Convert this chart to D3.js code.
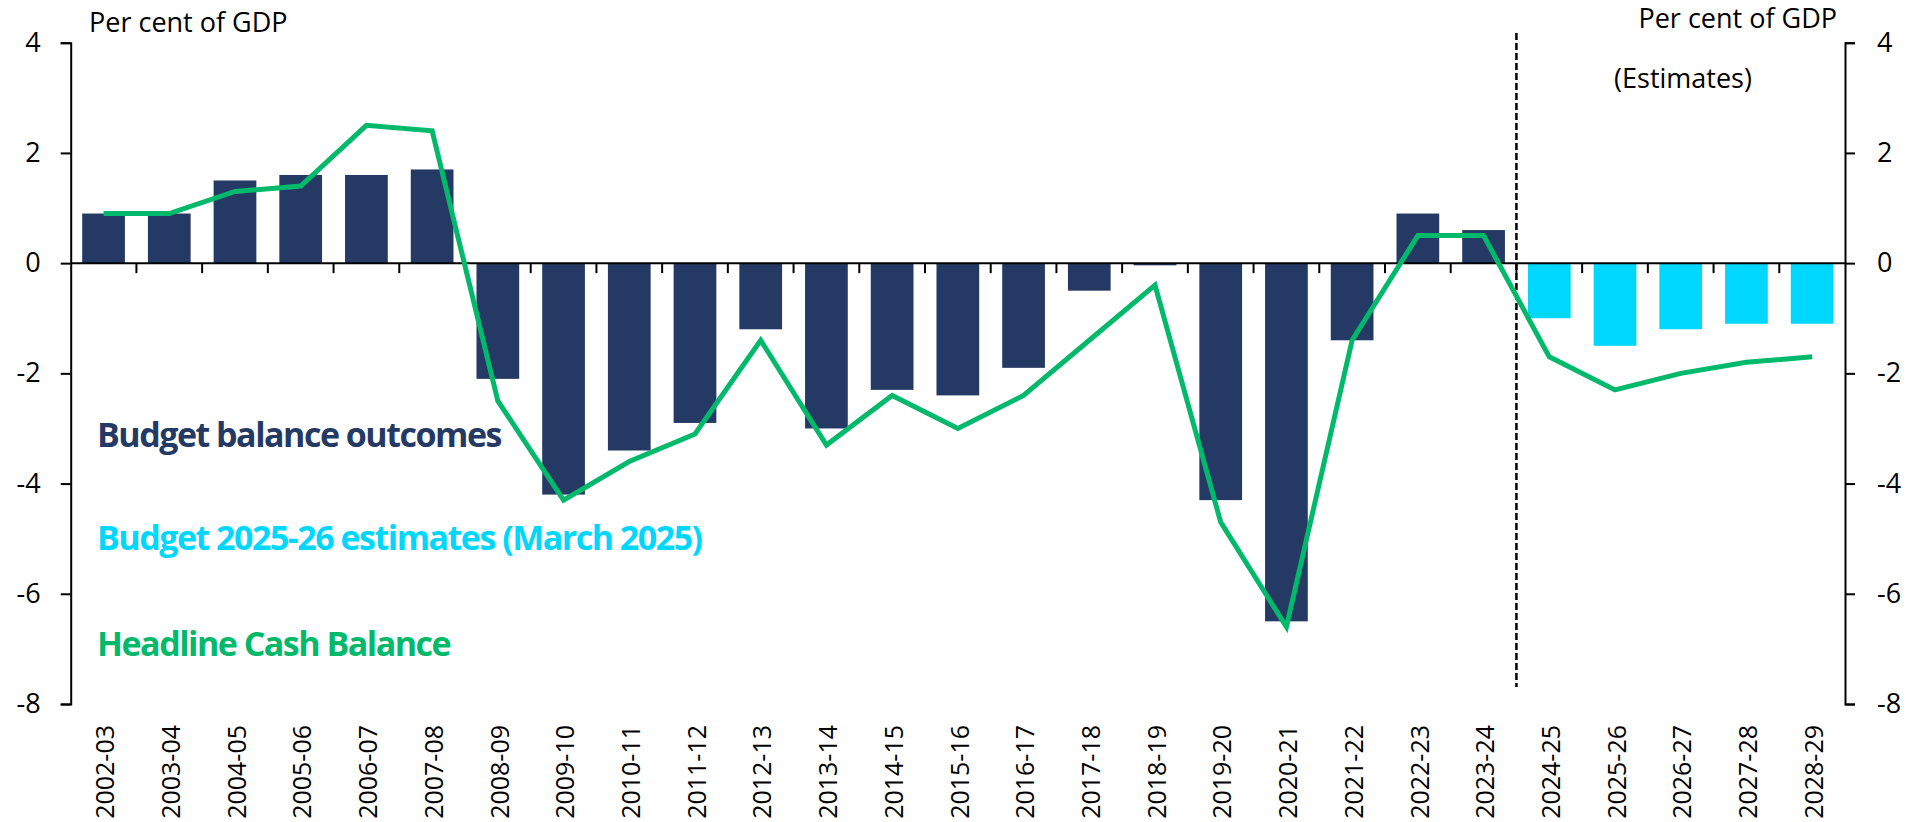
<!DOCTYPE html>
<html>
<head>
<meta charset="utf-8">
<script src="https://cdn.jsdelivr.net/npm/d3@7"></script>
<style>
    html, body { margin: 0; padding: 0; background: #fff; }
    svg { display: block; }
</style>
</head>
<body>
<svg id="chart"></svg>
<script>
// financial years on the category axis
const years = [
    '2002-03', '2003-04', '2004-05', '2005-06', '2006-07', '2007-08', '2008-09',
    '2009-10', '2010-11', '2011-12', '2012-13', '2013-14', '2014-15', '2015-16',
    '2016-17', '2017-18', '2018-19', '2019-20', '2020-21', '2021-22', '2022-23',
    '2023-24', '2024-25', '2025-26', '2026-27', '2027-28', '2028-29'
];

// budget balance outcomes (per cent of GDP)
const outcomes = [
    0.9, 0.9, 1.5, 1.6, 1.6, 1.7, -2.1, -4.2, -3.4, -2.9, -1.2, -3.0, -2.3, -2.4,
    -1.9, -0.5, -0.04, -4.3, -6.5, -1.4, 0.9, 0.6
];

// budget 2025-26 estimates, 2024-25 onwards
const estimates = [-1.0, -1.5, -1.2, -1.1, -1.1];

// headline cash balance line
const headlineCash = [
    0.9, 0.9, 1.3, 1.4, 2.5, 2.4, -2.5, -4.3, -3.6, -3.1, -1.4, -3.3, -2.4, -3.0,
    -2.4, -1.4, -0.4, -4.7, -6.6, -1.4, 0.5, 0.5, -1.7, -2.3, -2.0, -1.8, -1.7
];

const yTicks = [-8, -6, -4, -2, 0, 2, 4];

const legendItems = [
    { label: 'Budget balance outcomes', color: '#243A64' },
    { label: 'Budget 2025-26 estimates (March 2025)', color: '#00D7FF' },
    { label: 'Headline Cash Balance', color: '#00B96B' }
];

const width = 1918;
const height = 822;
const left = 70.7;
const right = 1845;
const navy = '#243A64';
const cyan = '#00D7FF';
const green = '#00B96B';
const font = "'Open Sans', sans-serif";

const svg = d3.select('#chart')
    .attr('width', width)
    .attr('height', height);

const x = d3.scaleBand()
    .domain(years)
    .range([left, right])
    .paddingInner(0.35)
    .paddingOuter(0.175);

const y = d3.scaleLinear()
    .domain([-8, 4])
    .range([704, 42.7]);

const bars = years.map((yr, i) => {
    if (i < outcomes.length) return { year: yr, value: outcomes[i], color: navy };
    return { year: yr, value: estimates[i - outcomes.length], color: cyan };
});

// bars
svg.append('g')
    .selectAll('rect')
    .data(bars)
    .join('rect')
    .attr('x', d => x(d.year))
    .attr('width', x.bandwidth())
    .attr('y', d => y(Math.max(0, d.value)))
    .attr('height', d => Math.abs(y(d.value) - y(0)))
    .attr('fill', d => d.color);

// left and right axes, plain hyphen for negatives like the original
const fmt = d => String(d);

const leftAxis = svg.append('g')
    .attr('transform', `translate(${left},0)`)
    .call(d3.axisLeft(y).tickValues(yTicks).tickSize(10).tickPadding(20).tickFormat(fmt));

const rightAxis = svg.append('g')
    .attr('transform', `translate(${right},0)`)
    .call(d3.axisRight(y).tickValues(yTicks).tickSize(10).tickPadding(22).tickFormat(fmt));

[leftAxis, rightAxis].forEach(ax => {
    ax.select('.domain').attr('stroke', '#000').attr('stroke-width', 2);
    ax.selectAll('.tick line').attr('stroke', '#000').attr('stroke-width', 2);
    ax.selectAll('.tick text')
        .attr('font-family', font)
        .attr('font-size', 27)
        .attr('fill', '#000');
});

// zero line with category boundary ticks
const zero = y(0);
svg.append('line')
    .attr('x1', left)
    .attr('x2', right)
    .attr('y1', zero)
    .attr('y2', zero)
    .attr('stroke', '#000')
    .attr('stroke-width', 2);

svg.append('g')
    .selectAll('line')
    .data(years.slice(1))
    .join('line')
    .attr('x1', d => x(d) - x.step() * x.paddingInner() / 2)
    .attr('x2', d => x(d) - x.step() * x.paddingInner() / 2)
    .attr('y1', zero)
    .attr('y2', zero + 10)
    .attr('stroke', '#000')
    .attr('stroke-width', 2);

// category labels, rotated
svg.append('g')
    .selectAll('text')
    .data(years)
    .join('text')
    .attr('transform', d => `translate(${x(d) + x.bandwidth() / 2 + 2}, 725) rotate(-90)`)
    .attr('text-anchor', 'end')
    .attr('dy', '0.35em')
    .attr('font-family', font)
    .attr('font-size', 25)
    .attr('fill', '#000')
    .text(d => d);

// estimates divider
const divX = x(years[outcomes.length]) - x.step() * x.paddingInner() / 2;
svg.append('line')
    .attr('x1', divX)
    .attr('x2', divX)
    .attr('y1', 33)
    .attr('y2', 687)
    .attr('stroke', '#000')
    .attr('stroke-width', 2.5)
    .attr('stroke-dasharray', '7,3');

// headline cash balance line
const line = d3.line()
    .x((d, i) => x(years[i]) + x.bandwidth() / 2)
    .y(d => y(d));

svg.append('path')
    .datum(headlineCash)
    .attr('d', line)
    .attr('fill', 'none')
    .attr('stroke', green)
    .attr('stroke-width', 5)
    .attr('stroke-linejoin', 'miter');

// axis titles
svg.append('text')
    .attr('x', 89)
    .attr('y', 32)
    .attr('font-family', font)
    .attr('font-size', 27)
    .attr('fill', '#000')
    .text('Per cent of GDP');

svg.append('text')
    .attr('x', 1837)
    .attr('y', 28)
    .attr('text-anchor', 'end')
    .attr('font-family', font)
    .attr('font-size', 27)
    .attr('fill', '#000')
    .text('Per cent of GDP');

svg.append('text')
    .attr('x', 1683)
    .attr('y', 88)
    .attr('text-anchor', 'middle')
    .attr('font-family', font)
    .attr('font-size', 27)
    .attr('fill', '#000')
    .text('(Estimates)');

// legend
svg.append('g')
    .selectAll('text')
    .data(legendItems)
    .join('text')
    .attr('x', 97)
    .attr('y', (d, i) => [447, 550, 656][i])
    .attr('font-family', font)
    .attr('font-weight', 'bold')
    .attr('font-size', 34)
    .attr('letter-spacing', -1.5)
    .attr('fill', d => d.color)
    .text(d => d.label);
</script>
</body>
</html>
